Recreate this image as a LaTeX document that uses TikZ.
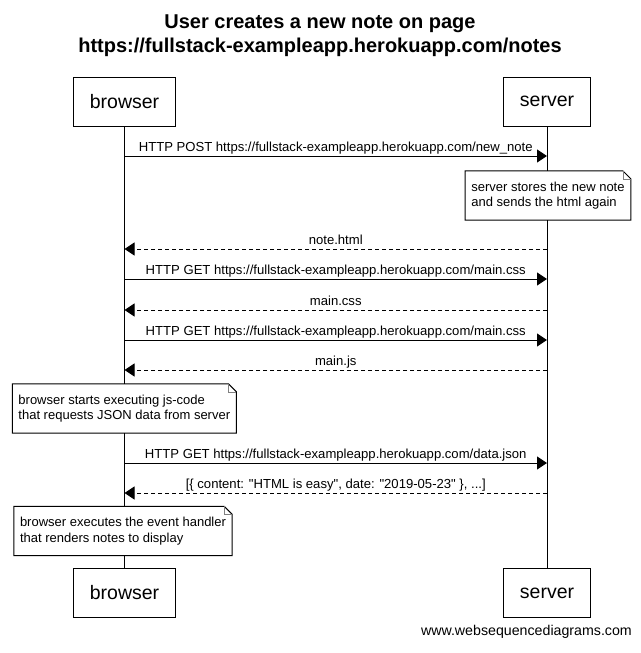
\documentclass[tikz,border=0pt]{standalone}
\usepackage{fontspec}
\setmainfont[Ligatures=TeXOff]{Liberation Sans}
\usetikzlibrary{arrows.meta}
\newcommand\notedraw[1]{%
  \draw[line width=1pt] (#1.north west) -- ([xshift=-8pt]#1.north east) -- ([yshift=-8pt]#1.north east) -- (#1.south east) -- (#1.south west) -- cycle;
  \draw[line width=0.6pt, gray] ([xshift=-8pt]#1.north east) |- ([yshift=-8pt]#1.north east);}
\begin{document}
\begin{tikzpicture}[x=1pt,y=-1pt,
  actor/.style={draw, line width=1pt, fill=white, minimum height=49pt, inner xsep=16.5pt, font=\fontsize{19.5}{23}\selectfont},
  lifeline/.style={line width=1pt},
  msg/.style={line width=1pt, -{Triangle[length=10pt,width=13pt]}},
  reply/.style={msg, dash pattern=on 4pt off 3pt},
  lbl/.style={anchor=base, yshift=4.5pt, inner sep=0pt, font=\fontsize{13.1}{15}\selectfont},
  notebox/.style={align=left, fill=white, inner xsep=6pt, minimum height=49pt, font=\fontsize{13}{15.5}\selectfont},
  ttl/.style={anchor=base, inner sep=0pt, font=\bfseries\fontsize{20}{23}\selectfont},
]
\fill[white] (0,0) rectangle (640,653);
\useasboundingbox (0,0) rectangle (640,653);

\node[ttl] (t1) at (320,28.8) {User creates a new note on page};
\node[ttl] (t2) at (320,52.2) {https://fullstack-exampleapp.herokuapp.com/notes};

\node[actor] (bt) at (124.5,101.5) {browser};
\node[actor] (st) at (547,101.5) {server};
\node[actor] (bb) at (124.5,593) {browser};
\node[actor] (sb) at (547,593) {server};

\draw[lifeline] (bt.south) -- (bb.north);
\draw[lifeline] (st.south) -- (sb.north);

\foreach \i/\y in {1/156,2/249,3/279,4/310,5/340,6/370,7/463,8/493}{
  \coordinate (b\i) at (124.5,\y);
  \coordinate (s\i) at (547,\y);
}

\draw[msg] (b1) -- (s1) node[lbl, midway] {HTTP POST https://fullstack-exampleapp.herokuapp.com/new\_note};
\node[notebox] (n1) at (548,195.5) {server stores the new note\\and sends the html again};
\notedraw{n1}
\draw[reply] (s2) -- (b2) node[lbl, midway] {note.html};
\draw[msg] (b3) -- (s3) node[lbl, midway] {HTTP GET https://fullstack-exampleapp.herokuapp.com/main.css};
\draw[reply] (s4) -- (b4) node[lbl, midway] {main.css};
\draw[msg] (b5) -- (s5) node[lbl, midway] {HTTP GET https://fullstack-exampleapp.herokuapp.com/main.css};
\draw[reply] (s6) -- (b6) node[lbl, midway] {main.js};
\node[notebox] (n2) at (124.3,408.5) {browser starts executing js-code\\that requests JSON data from server};
\notedraw{n2}
\draw[msg] (b7) -- (s7) node[lbl, midway] {HTTP GET https://fullstack-exampleapp.herokuapp.com/data.json};
\draw[reply] (s8) -- (b8) node[lbl, midway] {[\{ content: "HTML is easy", date: "2019-05-23" \}, ...]};
\node[notebox] (n3) at (123,531) {browser executes the event handler\\that renders notes to display};
\notedraw{n3}

\node[anchor=base east, inner sep=0pt, font=\fontsize{14.2}{16}\selectfont] (foot) at (632,635) {www.websequencediagrams.com};
\end{tikzpicture}
\end{document}
